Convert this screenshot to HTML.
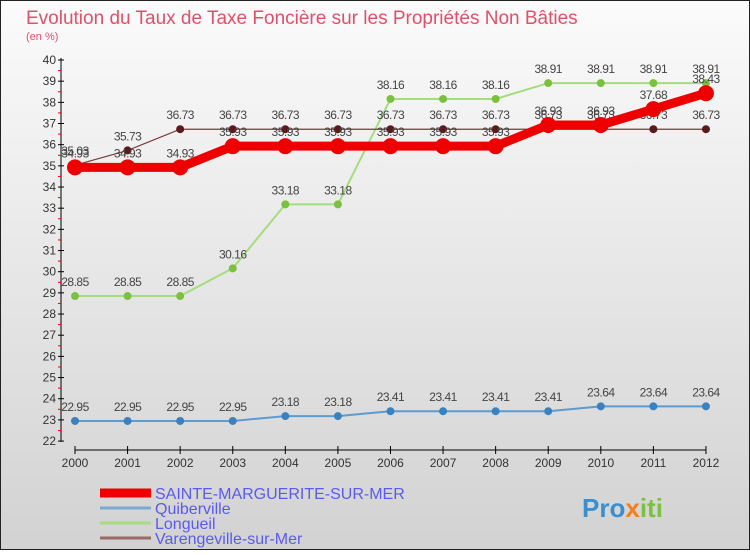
<!DOCTYPE html>
<html><head><meta charset="utf-8"><style>
body{margin:0}
svg text{font-family:"Liberation Sans",sans-serif}
</style></head><body>
<svg width="750" height="550" viewBox="0 0 750 550" xmlns="http://www.w3.org/2000/svg">
<defs><linearGradient id="bg" x1="0" y1="0" x2="0" y2="1"><stop offset="0" stop-color="#fbfbfb"/><stop offset="1" stop-color="#d2d2d2"/></linearGradient></defs>
<rect x="0.5" y="0.5" width="749" height="549" fill="url(#bg)" stroke="#222"/>
<text x="26" y="24" font-size="19" fill="#e0506a">Evolution du Taux de Taxe Foncière sur les Propriétés Non Bâties</text>
<text x="26" y="40" font-size="11" fill="#e0506a">(en %)</text>
<g id="axes"></g>
<g id="series"></g>
<g id="legend"></g>
<text x="582" y="517" font-size="26" font-weight="bold" fill="#3a8fd0">Pro<tspan fill="#f08020">x</tspan><tspan fill="#7cc040">iti</tspan></text>
</svg>
<script>
const years=[2000,2001,2002,2003,2004,2005,2006,2007,2008,2009,2010,2011,2012];
const yTicks=[22,23,24,25,26,27,28,29,30,31,32,33,34,35,36,37,38,39,40];
const sainte=[34.93,34.93,34.93,35.93,35.93,35.93,35.93,35.93,35.93,36.93,36.93,37.68,38.43];
const quiberville=[22.95,22.95,22.95,22.95,23.18,23.18,23.41,23.41,23.41,23.41,23.64,23.64,23.64];
const longueil=[28.85,28.85,28.85,30.16,33.18,33.18,38.16,38.16,38.16,38.91,38.91,38.91,38.91];
const varenge=[35.03,35.73,36.73,36.73,36.73,36.73,36.73,36.73,36.73,36.73,36.73,36.73,36.73];
const NS="http://www.w3.org/2000/svg";
const X=i=>75+i*52.58;
const Y=v=>60+(40-v)*21.17;
function mk(p,t,a){const e=document.createElementNS(NS,t);for(const k in a)e.setAttribute(k,a[k]);p.appendChild(e);return e;}
const ax=document.getElementById('axes');
let l=mk(ax,'line',{x1:61,y1:58,x2:61,y2:442,stroke:'#000'});


l=mk(ax,'line',{x1:75,y1:450,x2:706,y2:450,stroke:'#000'});


yTicks.forEach(v=>{
 mk(ax,'line',{x1:58,y1:Y(v),x2:64,y2:Y(v),stroke:'#000'});
 if(v<40) mk(ax,'line',{x1:58,y1:Y(v+0.5),x2:61,y2:Y(v+0.5),stroke:'#e00'});
 const t=mk(ax,'text',{x:56,y:Y(v)+4,'font-size':12,'text-anchor':'end',fill:'#333'});t.textContent=v;
 
 
});
years.forEach((y,i)=>{
 mk(ax,'line',{x1:X(i),y1:446,x2:X(i),y2:454,stroke:'#000'});
 const t=mk(ax,'text',{x:X(i),y:467,'font-size':12,'text-anchor':'middle',fill:'#333'});t.textContent=y;
 
 
});
const sg=document.getElementById('series');
const defs=[
 {d:quiberville,c:'#5b9bd0',w:2,r:4,pc:'#3a82bf',n:'quiberville'},
 {d:longueil,c:'#a6dc80',w:2,r:4,pc:'#7cc040',n:'longueil'},
 {d:varenge,c:'#7a3a3a',w:1.2,r:4,pc:'#5a1a1a',n:'varengeville'},
 {d:sainte,c:'#ee0000',w:9,r:8,pc:'#ee0000',n:'sainte-marguerite'}];
defs.forEach(s=>{
 const g=mk(sg,'g',{});
 
 
 const p=mk(g,'polyline',{points:s.d.map((v,i)=>X(i)+','+Y(v)).join(' '),fill:'none',stroke:s.c,'stroke-width':s.w});
 
 
 s.d.forEach((v,i)=>{
  const c=mk(g,'circle',{cx:X(i),cy:Y(v),r:s.r,fill:s.pc});
  
  
  const t=mk(g,'text',{x:X(i),y:Y(v)-10,'font-size':12,'text-anchor':'middle',fill:'#444','letter-spacing':'-0.5'});
  t.textContent=v.toFixed(2);
  
  
 });
});
const lg=document.getElementById('legend');
const items=[['SAINTE-MARGUERITE-SUR-MER','#ee0000',9],['Quiberville','#7aaad0',3],['Longueil','#a6dc80',3],['Varengeville-sur-Mer','#9a6a6a',3]];
items.forEach((it,i)=>{
 const y=493+i*15;
 const ln=mk(lg,'line',{x1:100,y1:y,x2:151,y2:y,stroke:it[1],'stroke-width':it[2]});
 
 
 const t=mk(lg,'text',{x:155,y:y+6,'font-size':16,fill:'#5a5af0'});t.textContent=it[0];
 
 
});
</script>
</body></html>
